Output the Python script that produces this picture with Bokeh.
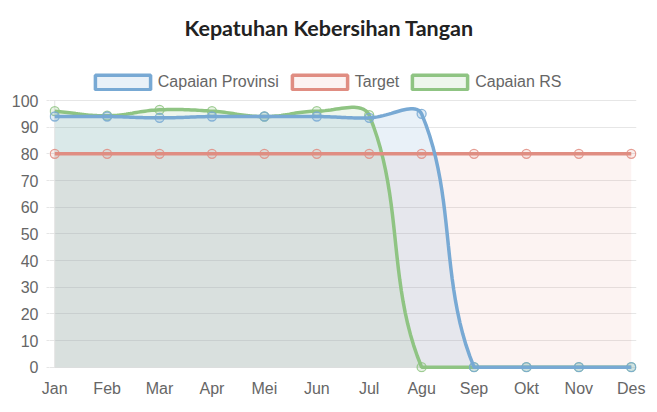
import math
import numpy as np
from bokeh.plotting import figure
from bokeh.models import Range1d, FixedTicker, Legend, LegendItem, Label
from bokeh.embed import file_html
from bokeh.resources import INLINE

months = ["Jan", "Feb", "Mar", "Apr", "Mei", "Jun", "Jul", "Agu", "Sep", "Okt", "Nov", "Des"]
capaian_provinsi = [94, 94, 93.5, 94, 94, 94, 93.5, 95, 0, 0, 0, 0]
target = [80, 80, 80, 80, 80, 80, 80, 80, 80, 80, 80, 80]
capaian_rs = [96, 94.3, 96.5, 96, 94, 96, 94.5, 0, 0, 0, 0, 0]
y_ticks = [0, 10, 20, 30, 40, 50, 60, 70, 80, 90, 100]

W, H = 657, 412
PX, PY = 52.41, 2.667  # pixel scale used for the spline shape (like chart.js)


def smooth(vals, tension=0.4, n=24):
    # chart.js style cardinal spline, control points capped to chart area
    xs = np.arange(len(vals)) * PX
    ys = np.array(vals, dtype=float) * PY
    m = len(vals)
    cp1, cp2 = [], []
    for i in range(m):
        a, b = max(i - 1, 0), min(i + 1, m - 1)
        d01 = math.hypot(xs[i] - xs[a], ys[i] - ys[a])
        d12 = math.hypot(xs[b] - xs[i], ys[b] - ys[i])
        s = d01 + d12
        fa = tension * (d01 / s if s else 0)
        fb = tension * (d12 / s if s else 0)
        dx, dy = xs[b] - xs[a], ys[b] - ys[a]
        cap = lambda cx, cy: (min(max(cx, 0), xs[-1]), min(max(cy, 0), 100 * PY))
        cp1.append(cap(xs[i] - fa * dx, ys[i] - fa * dy))
        cp2.append(cap(xs[i] + fb * dx, ys[i] + fb * dy))
    t = np.linspace(0, 1, n)
    ox, oy = [xs[0]], [ys[0]]
    for i in range(m - 1):
        p0 = (xs[i], ys[i]); p1 = cp2[i]; p2 = cp1[i + 1]; p3 = (xs[i + 1], ys[i + 1])
        bx = (1 - t) ** 3 * p0[0] + 3 * (1 - t) ** 2 * t * p1[0] + 3 * (1 - t) * t ** 2 * p2[0] + t ** 3 * p3[0]
        by = (1 - t) ** 3 * p0[1] + 3 * (1 - t) ** 2 * t * p1[1] + 3 * (1 - t) * t ** 2 * p2[1] + t ** 3 * p3[1]
        ox.extend(bx[1:]); oy.extend(by[1:])
    return np.array(ox) / PX, np.array(oy) / PY


# frame runs up to the top edge so title and legend live inside it (no clipping)
p = figure(width=W, height=H, output_backend="svg", toolbar_location=None,
           x_range=Range1d(-0.1, 11.1), y_range=Range1d(-2, 137.5),
           min_border_left=49, min_border_right=21, min_border_top=0, min_border_bottom=40)
p.outline_line_color = None

series = [
    ("Capaian Provinsi", capaian_provinsi, "#78a9d4"),
    ("Target", target, "#e08d82"),
    ("Capaian RS", capaian_rs, "#8fc483"),
]
fill_alpha = {"Capaian Provinsi": 0.16, "Target": 0.1, "Capaian RS": 0.15}

xi = list(range(len(months)))
for name, vals, col in reversed(series):
    sx, sy = smooth(vals)
    p.varea(x=sx, y1=np.zeros_like(sy), y2=sy, fill_color=col, fill_alpha=fill_alpha[name])

# y axis line along the first category
p.segment(x0=[xi[0]], y0=[y_ticks[0]], x1=[xi[0]], y1=[y_ticks[-1]], line_color="#e2e2e2", line_width=1)

for name, vals, col in reversed(series):
    sx, sy = smooth(vals)
    p.line(sx, sy, line_color=col, line_width=3.5)
    p.scatter(xi, vals, size=9, line_color=col, line_width=1.3, line_alpha=0.85,
              fill_color=col, fill_alpha=fill_alpha[name] + 0.05)

# legend swatches only (no visible data)
items = []
for name, vals, col in series:
    r = p.quad(left=[np.nan], right=[np.nan], top=[np.nan], bottom=[np.nan], fill_color=col,
               fill_alpha=fill_alpha[name], line_color=col, line_width=3.5)
    items.append(LegendItem(label=name, renderers=[r]))

legend = Legend(items=items, orientation="horizontal", location=(38.8, 281.3),
                padding=0, margin=0, spacing=6, label_standoff=1,
                glyph_width=69, glyph_height=18, label_height=18,
                label_text_font="Liberation Sans", label_text_font_size="16px",
                label_text_color="#666666", border_line_alpha=0, background_fill_alpha=0)
p.add_layout(legend)

p.add_layout(Label(x=279.6, y=345, x_units="screen", y_units="screen",
                   text="Kepatuhan Kebersihan Tangan", text_align="center",
                   text_baseline="alphabetic", text_font="Lato", text_font_style="bold",
                   text_font_size="21.5px", text_color="#222222"))

p.xgrid.grid_line_color = None
p.ygrid.grid_line_color = "#e6e6e6"
p.ygrid.ticker = FixedTicker(ticks=y_ticks)

p.xaxis.ticker = FixedTicker(ticks=xi)
p.xaxis.major_label_overrides = {i: m for i, m in enumerate(months)}
p.yaxis.ticker = FixedTicker(ticks=y_ticks)

for ax in (p.xaxis, p.yaxis):
    ax.axis_line_color = None
    ax.minor_tick_line_color = None
    ax.major_label_text_font = "Liberation Sans"
    ax.major_label_text_font_size = "16px"
    ax.major_label_text_color = "#666666"
p.xaxis.major_tick_line_color = None
p.xaxis.major_label_standoff = 1
p.yaxis.major_tick_line_color = "#e6e6e6"
p.yaxis.major_tick_in = 0
p.yaxis.major_tick_out = 3
p.yaxis.major_label_standoff = 8

open("out.html", "w").write(file_html(p, INLINE))
